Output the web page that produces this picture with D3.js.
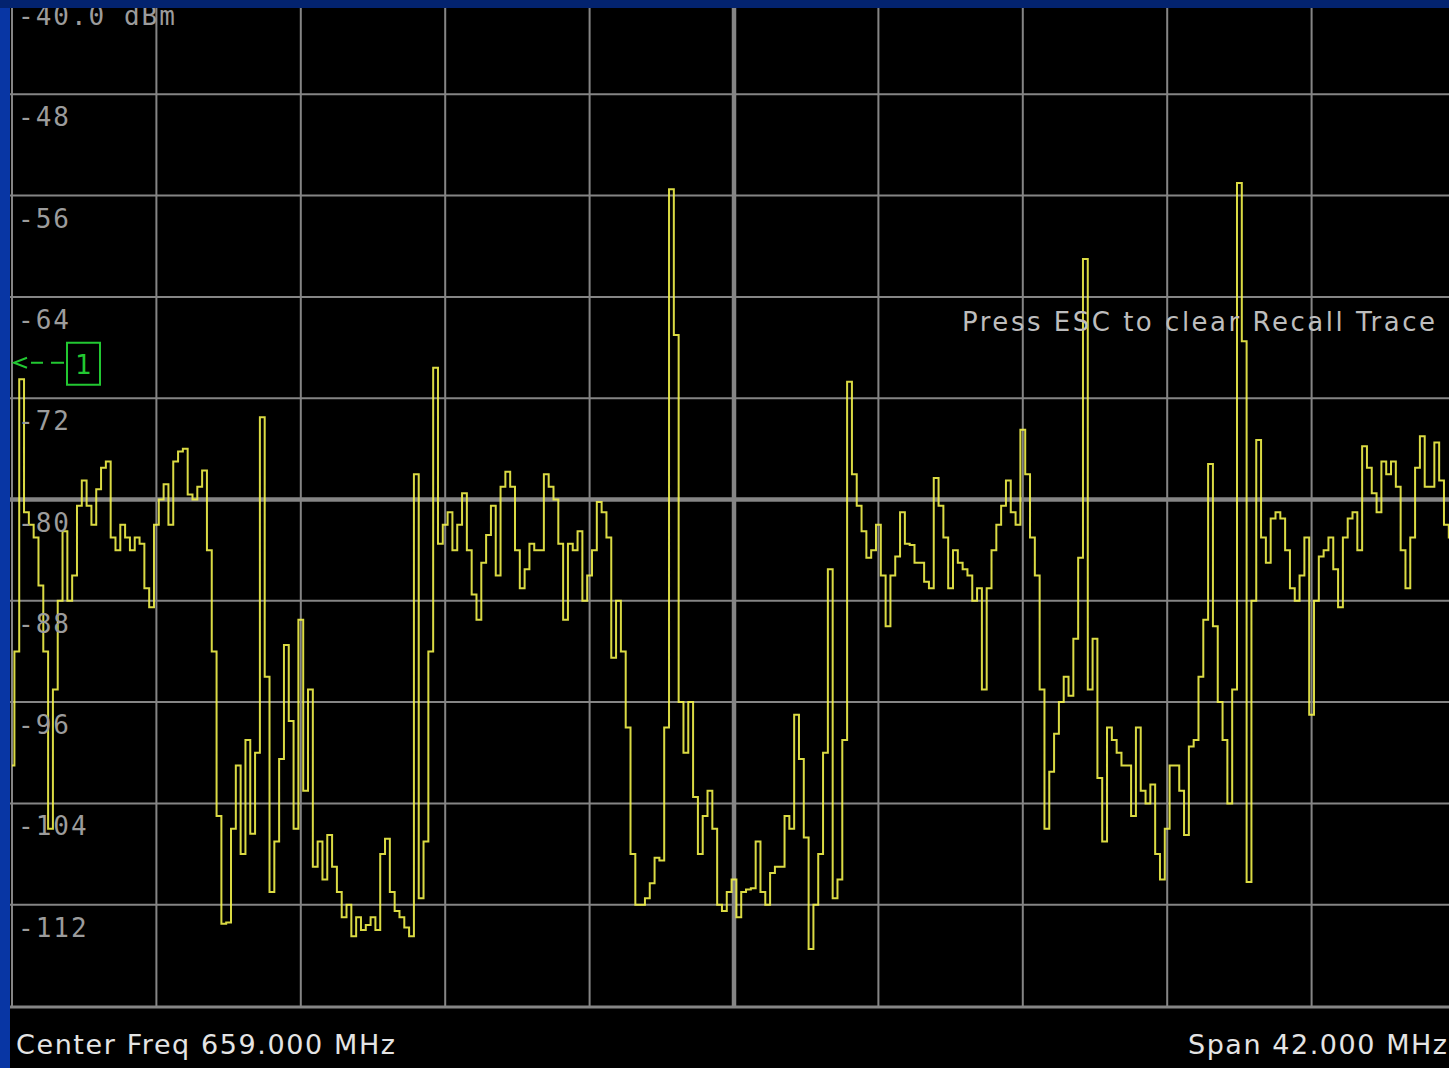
<!DOCTYPE html>
<html>
<head>
<meta charset="utf-8">
<script src="https://d3js.org/d3.v7.min.js"></script>
<style>
  html, body { margin: 0; padding: 0; background: #000; overflow: hidden; }
  svg { display: block; }
</style>
</head>
<body>
<div id="chart"></div>
<script>
  // sweep settings shown on screen
  var centerMHz = 659.0,
      spanMHz = 42.0,
      refLevel = -40.0,
      dbPerDiv = 8,
      numDivs = 10;

  var yTickLabels = ["-40.0 dBm", "-48", "-56", "-64", "-72", "-80", "-88", "-96", "-104", "-112"];

  var bottomLeft = "Center Freq 659.000 MHz",
      bottomRight = "Span 42.000 MHz",
      message = "Press ESC to clear Recall Trace";

  // marker 1 sits off-screen, only its level arrow is drawn
  var markerLevel = -69.2;

  // recalled trace, dBm at 301 evenly spaced sweep points across the span
  var traceDbm = [
    -101, -92, -70.5, -81, -82, -83, -86.8, -92, -106, -95,
    -88, -82.5, -88, -86, -80.5, -78.5, -80.5, -82, -79.2, -77.5,
    -77, -83, -84, -82, -83, -84, -83, -83.5, -87, -88.5,
    -82, -80, -78.8, -82, -77, -76.2, -76, -79.6, -80, -79,
    -77.7, -84, -92, -105, -113.5, -113.4, -106, -101, -108, -99,
    -106.4, -100, -73.5, -94, -111, -107, -100.5, -91.5, -97.5, -106,
    -89.5, -103, -95, -109, -107, -110, -106.5, -109, -111, -113,
    -112, -114.5, -113, -114, -113.6, -113, -114, -108, -106.8, -111,
    -112.5, -113, -113.8, -114.5, -78, -111.5, -107, -92, -69.6, -83.5,
    -82, -81, -84, -82, -79.5, -84, -87.5, -89.5, -85, -82.8,
    -80.5, -86, -79, -77.8, -79, -84, -87, -85.5, -83.5, -84,
    -84, -78, -79, -80, -83.5, -89.5, -83.5, -84, -82.5, -88,
    -86, -84, -80.2, -81, -83, -92.5, -88, -92, -98, -108,
    -112, -112, -111.5, -110.3, -108.3, -108.5, -98, -55.5, -67, -96,
    -100, -96, -103.5, -108, -105, -103, -106, -112, -112.5, -111,
    -110, -113, -111, -110.8, -110.7, -107, -111, -112, -109.5, -109,
    -109, -105, -106, -97, -100.5, -106.7, -115.5, -112, -108, -100,
    -85.5, -111.5, -110, -99, -70.7, -78, -80.5, -82.5, -84.6, -84,
    -82, -86, -90, -86, -84.5, -81, -83.5, -83.6, -85, -85,
    -86.5, -87, -78.3, -80.5, -83, -87, -84, -85, -85.5, -86,
    -88, -87, -95, -87, -84, -82, -80.5, -78.5, -81, -82,
    -74.5, -78, -83, -86, -95, -106, -101.5, -98.5, -96, -94,
    -95.5, -91, -84.6, -61, -95, -91, -102, -107, -98, -99,
    -100, -101, -101, -105, -98, -103, -104, -102.5, -108, -110,
    -106, -101, -101, -103, -106.5, -99.5, -99, -94, -89.5, -77.2,
    -90, -96, -99, -104, -95, -55, -67.5, -110.2, -88, -75.3,
    -83, -85, -81.5, -81, -81.5, -84, -87, -88, -86, -83,
    -97, -88, -84.5, -84, -83, -85.5, -88.5, -83, -81.5, -81,
    -84, -75.8, -77.5, -79.5, -81, -77, -78, -77, -79, -84,
    -87, -83, -77.5, -75, -79, -79, -75.5, -78.5, -82, -83, -80
  ];

  var width = 1449,
      height = 1068;

  var startMHz = centerMHz - spanMHz / 2,
      stopMHz = centerMHz + spanMHz / 2,
      stepMHz = spanMHz / (traceDbm.length - 1);

  var x = d3.scaleLinear().domain([startMHz, stopMHz]).range([12, 1456]);
  var y = d3.scaleLinear().domain([refLevel, refLevel - numDivs * dbPerDiv]).range([-7, 1006]);

  var svg = d3.select("#chart").append("svg")
    .attr("width", width)
    .attr("height", height);

  svg.append("rect")
    .attr("width", width).attr("height", height)
    .attr("fill", "#000");

  svg.append("clipPath").attr("id", "plot")
    .append("rect")
      .attr("x", 10).attr("y", 8)
      .attr("width", width - 10).attr("height", y(refLevel - numDivs * dbPerDiv) - 6);

  var grid = svg.append("g").attr("clip-path", "url(#plot)");

  // graticule
  var vDivs = d3.range(0, numDivs + 1);
  grid.selectAll(".vline").data(vDivs).enter().append("line")
    .attr("x1", function(d) { return x(startMHz + d * spanMHz / numDivs); })
    .attr("x2", function(d) { return x(startMHz + d * spanMHz / numDivs); })
    .attr("y1", 0).attr("y2", y(refLevel - numDivs * dbPerDiv))
    .attr("stroke", "#858585")
    .attr("stroke-width", function(d) { return d === numDivs / 2 ? 4.5 : 2; });

  grid.selectAll(".hline").data(vDivs.slice(0, numDivs)).enter().append("line")
    .attr("x1", 0).attr("x2", width)
    .attr("y1", function(d) { return y(refLevel - d * dbPerDiv); })
    .attr("y2", function(d) { return y(refLevel - d * dbPerDiv); })
    .attr("stroke", "#858585")
    .attr("stroke-width", function(d) { return d === numDivs / 2 ? 4.5 : 2; });

  // amplitude labels, just under each graticule line
  svg.selectAll(".ylab").data(yTickLabels).enter().append("text")
    .attr("x", 18)
    .attr("y", function(d, i) { return y(refLevel - i * dbPerDiv) + 32; })
    .attr("fill", "#9c9c9c")
    .style("font-family", "'DejaVu Sans Mono', monospace")
    .style("font-size", "26px")
    .style("letter-spacing", "2px")
    .text(function(d) { return d; });

  // recall message
  svg.append("text")
    .attr("x", 962).attr("y", 331)
    .attr("fill", "#bdbdbd")
    .attr("textLength", 473).attr("lengthAdjust", "spacing")
    .style("font-family", "'DejaVu Sans', sans-serif")
    .style("font-size", "26px")
    .text(message);

  // marker 1 arrow + box
  var my = y(markerLevel);
  var mk = svg.append("g").attr("stroke", "#22c832").attr("fill", "none").attr("stroke-width", 2);
  mk.append("path").attr("d", "M27," + (my - 5) + "L14," + my + "L27," + (my + 5));
  mk.append("line").attr("x1", 14).attr("x2", 66).attr("y1", my).attr("y2", my)
    .attr("stroke-dasharray", "0,17,12,8,13,2");
  mk.append("rect").attr("x", 67).attr("y", my - 20).attr("width", 33).attr("height", 42);
  svg.append("text")
    .attr("x", 83.5).attr("y", my + 11)
    .attr("text-anchor", "middle")
    .attr("fill", "#22c832")
    .style("font-family", "'DejaVu Sans', sans-serif")
    .style("font-size", "26px")
    .text("1");

  // trace, drawn as sample steps like the analyser display
  var line = d3.line()
    .x(function(d, i) { return x(startMHz + i * stepMHz); })
    .y(function(d) { return y(d); })
    .curve(d3.curveStep);

  grid.append("path")
    .datum(traceDbm)
    .attr("d", line)
    .attr("fill", "none")
    .attr("stroke", "#f2f24a")
    .attr("stroke-opacity", 0.9)
    .attr("stroke-width", 2);

  // bottom graticule edge
  svg.append("line")
    .attr("x1", 10).attr("x2", width)
    .attr("y1", y(refLevel - numDivs * dbPerDiv) + 1)
    .attr("y2", y(refLevel - numDivs * dbPerDiv) + 1)
    .attr("stroke", "#858585").attr("stroke-width", 3);

  // footer
  svg.append("text")
    .attr("x", 16).attr("y", 1054)
    .attr("fill", "#e4e4e4")
    .attr("textLength", 379).attr("lengthAdjust", "spacing")
    .style("font-family", "'DejaVu Sans', sans-serif")
    .style("font-size", "27px")
    .text(bottomLeft);

  svg.append("text")
    .attr("x", 1188).attr("y", 1054)
    .attr("fill", "#e4e4e4")
    .attr("textLength", 259).attr("lengthAdjust", "spacing")
    .style("font-family", "'DejaVu Sans', sans-serif")
    .style("font-size", "27px")
    .text(bottomRight);

  // window frame
  svg.append("rect").attr("x", 0).attr("y", 0).attr("width", 10).attr("height", height).attr("fill", "#0836a4");
  svg.append("rect").attr("x", 0).attr("y", 0).attr("width", width).attr("height", 8).attr("fill", "#03236f");
</script>
</body>
</html>
